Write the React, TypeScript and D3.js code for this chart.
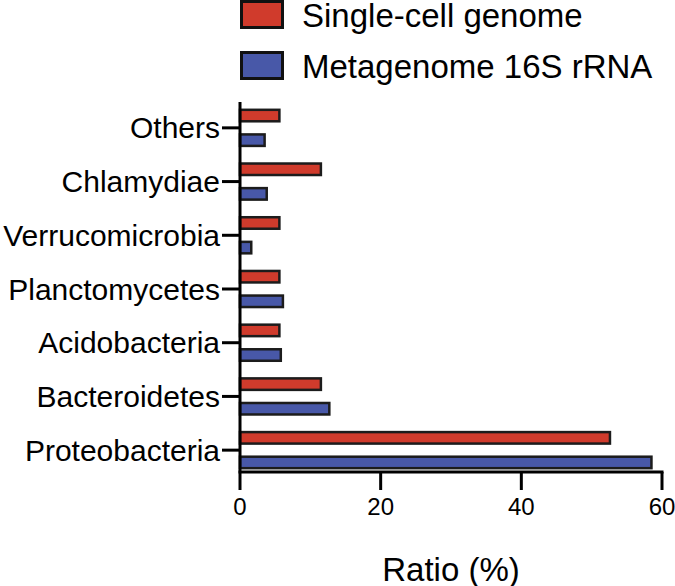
import React from "react";
import * as d3 from "d3";

const categories = [
  "Others",
  "Chlamydiae",
  "Verrucomicrobia",
  "Planctomycetes",
  "Acidobacteria",
  "Bacteroidetes",
  "Proteobacteria",
];
const seriesNames = ["Single-cell genome", "Metagenome 16S rRNA"];
const singleCell = [5.6, 11.5, 5.6, 5.6, 5.6, 11.5, 52.6];
const metagenome = [3.5, 3.8, 1.6, 6.1, 5.8, 12.7, 58.5];
const seriesColors = ["#d03b2c", "#4858a8"];
const xTicks = [0, 20, 40, 60];
const xLabel = "Ratio (%)";

const W = 675;
const H = 586;
const FONT = "'Liberation Sans', Arial, Helvetica, sans-serif";

export default function App() {
  const x = d3.scaleLinear().domain([0, 60]).range([240, 662]);
  const y = d3.scaleBand<string>().domain(categories).range([101, 477]).padding(0);
  const inner = d3
    .scaleBand<string>()
    .domain(seriesNames)
    .range([0, y.bandwidth()])
    .paddingInner(0.533)
    .paddingOuter(0.358);
  const values = [singleCell, metagenome];
  const axisBottom = 472;
  const axisTop = 102;
  const tickLen = 18;

  return (
    <svg
      width={W}
      height={H}
      style={{ position: "absolute", left: 0, top: 0, background: "#fff" }}
      fontFamily={FONT}
    >
      {/* bars */}
      {categories.map((c, i) =>
        seriesNames.map((s, k) => (
          <rect
            key={c + s}
            x={x(0)}
            y={(y(c) as number) + (inner(s) as number)}
            width={x(values[k][i]) - x(0)}
            height={inner.bandwidth()}
            fill={seriesColors[k]}
            stroke="#1c1c1c"
            strokeWidth={2.5}
          />
        ))
      )}
      {/* y axis */}
      <line x1={x(0)} x2={x(0)} y1={axisTop} y2={axisBottom} stroke="#000" strokeWidth={3} />
      {categories.map((c) => {
        const cy = (y(c) as number) + y.bandwidth() / 2;
        return (
          <g key={c}>
            <line x1={x(0) - tickLen} x2={x(0)} y1={cy} y2={cy} stroke="#000" strokeWidth={3} />
            <text
              x={x(0) - tickLen - 2}
              y={cy}
              dy="0.35em"
              textAnchor="end"
              fontSize={30}
              fill="#000"
            >
              {c}
            </text>
          </g>
        );
      })}
      {/* x axis */}
      <line x1={x(0) - 1.5} x2={x(60) + 1.5} y1={axisBottom} y2={axisBottom} stroke="#000" strokeWidth={3} />
      {xTicks.map((t) => (
        <g key={t}>
          <line x1={x(t)} x2={x(t)} y1={axisBottom} y2={axisBottom + tickLen} stroke="#000" strokeWidth={3} />
          <text x={x(t)} y={515} textAnchor="middle" fontSize={24} fill="#000">
            {t}
          </text>
        </g>
      ))}
      <text x={(x(0) + x(60)) / 2} y={581} textAnchor="middle" fontSize={33} fill="#000">
        {xLabel}
      </text>
      {/* legend */}
      {seriesNames.map((s, k) => (
        <g key={s} transform={`translate(0, ${k * 51})`}>
          <rect x={241.5} y={1.5} width={41} height={26} fill={seriesColors[k]} stroke="#111" strokeWidth={3} />
          <text x={302} y={27} fontSize={33} fill="#000">
            {s}
          </text>
        </g>
      ))}
    </svg>
  );
}
